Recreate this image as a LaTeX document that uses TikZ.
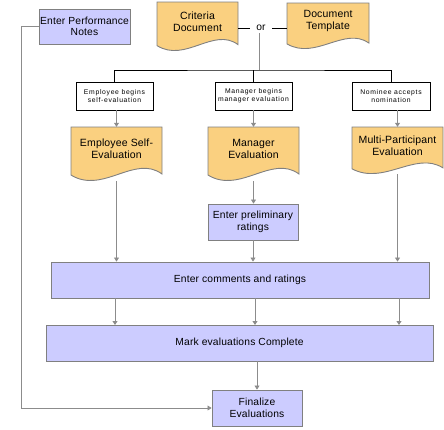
\documentclass[tikz,border=0pt]{standalone}
\usepackage{fontspec}
\setmainfont{Liberation Sans}[LetterSpace=1.5]
\usetikzlibrary{arrows.meta,calc}
\definecolor{lav}{HTML}{CCCCFF}
\definecolor{docfill}{HTML}{FAD080}
\definecolor{edge}{HTML}{808080}
\definecolor{conn}{HTML}{8C8C8C}
\newcommand\docnode[6]{%
  \path[docstyle] ({#2-#4/2},#3) -- ({#2+#4/2},#3) -- ({#2+#4/2},{#3+0.87*#5})
    .. controls ({#2+#4/2-0.3*#4},{#3+0.5*#5}) and ({#2-#4/2+0.35*#4},{#3+1.25*#5}) .. ({#2-#4/2},{#3+0.89*#5}) -- cycle;
  \node[docframe, minimum width=#4pt, minimum height=#5pt] (#1) at (#2,{#3+#5/2}) {};
  \node[doctext] (#1t) at (#2,{#3+0.4*#5}) {#6};
}
\begin{document}
\begin{tikzpicture}[x=1pt,y=-1pt,
  lavbox/.style={draw=edge, fill=lav, line width=0.9pt, inner sep=0pt, align=center, font=\fontsize{10.3}{11.5}\selectfont},
  smallbox/.style={draw=black, fill=white, line width=0.8pt, inner sep=0pt, align=center, font=\fontsize{6.8}{7.6}\selectfont\addfontfeature{LetterSpace=10}},
  doctext/.style={align=center, font=\fontsize{10.5}{12}\selectfont, inner sep=0pt},
  docframe/.style={draw=none, inner sep=0pt},
  docstyle/.style={draw=edge, fill=docfill, line width=0.9pt},
  arr/.style={draw=conn, line width=0.8pt, -{Triangle[length=4pt,width=5pt]}},
  gline/.style={draw=conn, line width=0.8pt},
  bline/.style={draw=black, line width=0.8pt}]
\useasboundingbox (0,0) rectangle (444,429);

% top row
\node[lavbox, minimum width=91pt, minimum height=35pt] (notes) at (84.5,26.5) {Enter Performance\\Notes};
\docnode{crit}{197.5}{2}{81}{49}{Criteria\\Document}
\docnode{templ}{328}{3}{82}{46}{Document\\Template}
\node[inner sep=0pt, minimum width=22pt, minimum height=10pt, font=\fontsize{10.3}{11}\selectfont] (or) at (261,28) {or};
\draw[bline] (crit.east |- or.west) -- (or.west);
\draw[bline] (or.east) -- (or.east -| templ.west);

% starter boxes
\node[smallbox, minimum width=77pt, minimum height=28pt] (emp) at (114.5,96) {Employee begins\\self-evaluation};
\node[smallbox, minimum width=77pt, minimum height=28pt] (mgr) at (253.5,96) {Manager begins\\manager evaluation};
\node[smallbox, minimum width=78pt, minimum height=28pt] (nom) at (391,96) {Nominee accepts\\nomination};
\coordinate (hub) at (259,70);
\draw[gline] (hub |- or.south) -- (hub);
\draw[bline] (emp.north) |- (hub) -| (nom.north);
\draw[bline] (mgr.north) -- (mgr.north |- hub);

% evaluation documents
\docnode{empdoc}{116.5}{127}{91}{54}{Employee Self-\\Evaluation}
\docnode{mgrdoc}{253.5}{127}{91}{54}{Manager\\Evaluation}
\docnode{multi}{397.5}{127}{91}{47}{Multi-Participant\\Evaluation}
\draw[arr] (emp.south -| empdoc.north) -- (empdoc.north);
\draw[arr] (mgr.south) -- (mgr.south |- mgrdoc.north);
\draw[arr] (nom.south -| multi.north) -- (multi.north);

\node[lavbox, minimum width=90pt, minimum height=36pt] (prelim) at (253,222) {Enter preliminary\\ratings};
\node[lavbox, minimum width=378pt, minimum height=36pt] (comments) at (240,280) {Enter comments and ratings};
\node[lavbox, minimum width=387pt, minimum height=36pt] (mark) at (239.5,343) {Mark evaluations Complete};
\node[lavbox, minimum width=90pt, minimum height=36pt] (final) at (257,408) {Finalize\\Evaluations};

\draw[arr] (mgrdoc.south) -- (mgrdoc.south |- prelim.north);
\draw[arr] (empdoc.south) -- (empdoc.south |- comments.north);
\draw[arr] (prelim.south) -- (prelim.south |- comments.north);
\draw[arr] (multi.south) -- (multi.south |- comments.north);

\foreach \xx in {115,255,399}
  \draw[arr] (\xx,298) -- (\xx,325);
\draw[arr] (final.north |- mark.south) -- (final.north);

\coordinate (loop) at (21,26.5);
\draw[arr] (notes.west) -- (loop) |- (final.west);
\end{tikzpicture}
\end{document}
